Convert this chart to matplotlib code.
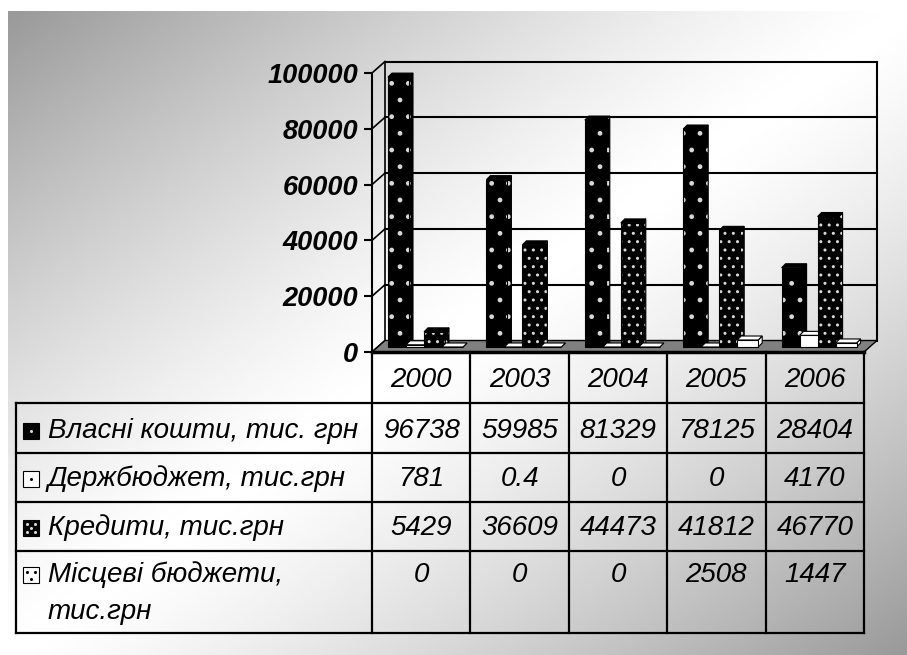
import matplotlib
matplotlib.use('Agg')
import matplotlib.pyplot as plt
import numpy as np
from matplotlib.patches import Polygon, Rectangle

plt.rcParams['font.family'] = ['Liberation Sans', 'DejaVu Sans']

years = ['2000', '2003', '2004', '2005', '2006']
series_names = ['Власні кошти, тис. грн', 'Держбюджет, тис.грн',
                'Кредити, тис.грн', 'Місцеві бюджети,\nтис.грн']
own_funds = [96738, 59985, 81329, 78125, 28404]
state_budget = [781, 0.4, 0, 0, 4170]
credits = [5429, 36609, 44473, 41812, 46770]
local_budgets = [0, 0, 0, 2508, 1447]
y_ticks = [0, 20000, 40000, 60000, 80000, 100000]

series = [own_funds, state_budget, credits, local_budgets]

# Look of each series: face colour, hatch, dot colour.
styles = [
    ('black', '.', '#d8d8d8'),
    ('white', '.', 'black'),
    ('black', '..', '#d8d8d8'),
    ('white', '.', 'black'),
]
# dots drawn inside the small legend keys (offsets in px from key centre)
key_dots = [
    [(0, 0)],
    [(0, 0)],
    [(-4, -4), (4, -4), (0, 0), (-4, 4), (4, 4)],
    [(-4, -3), (4, -3), (0, 4)],
]

W, H = 907, 655
fig = plt.figure(figsize=(W / 100, H / 100), dpi=100)

# Background gradient (grey -> white -> grey along the diagonal).
bg = fig.add_axes([0, 0, 1, 1], zorder=-10)
bg.set_xlim(0, W)
bg.set_ylim(H, 0)
bg.axis('off')
gx, gy = np.meshgrid(np.linspace(0, 1, 300), np.linspace(0, 1, 220))
t = np.abs(gx + gy - 1.0)
shade = 1 - 0.40 * t ** 1.3
bg.imshow(shade, cmap='gray', vmin=0, vmax=1, extent=[8, W, H, 11],
          aspect='auto', interpolation='bilinear')

# Chart axes: front plane of the 3D box.
x0_px, x1_px, y0_px, y1_px = 372, 864, 352, 73
ax = fig.add_axes([x0_px / W, (H - y0_px) / H, (x1_px - x0_px) / W,
                   (y0_px - y1_px) / H])
ax.set_xlim(0, len(years))
ax.set_ylim(0, 100000)
ax.patch.set_visible(False)
for side in ['top', 'right', 'bottom']:
    ax.spines[side].set_visible(False)
ax.spines['left'].set_linewidth(1.5)
ax.set_xticks([])
ax.set_yticks(y_ticks)
ax.set_yticklabels([str(v) for v in y_ticks], fontsize=19.5,
                   fontweight='bold', fontstyle='italic')
ax.tick_params(axis='y', direction='out', length=5.8, width=1.5, pad=4)

px_x = (x1_px - x0_px) / len(years)      # pixels per category
val_px = 100000 / (y0_px - y1_px)        # value units per pixel
DX, DY = 13 / px_x, 11.5 * val_px        # depth of the box

# Floor
ax.add_patch(Polygon([(0, 0), (5, 0), (5 + DX, DY), (DX, DY)],
                     closed=True, facecolor='#808080', edgecolor='black',
                     lw=1, clip_on=False, zorder=1))
ax.plot([0, 5], [0, 0], color='black', lw=2.5, clip_on=False, zorder=6)

# Back wall and side wall grid
for v in y_ticks[1:]:
    ax.plot([DX, 5 + DX], [v + DY, v + DY], color='black', lw=1.5,
            clip_on=False, zorder=0.5)
for v in y_ticks:
    ax.plot([0, DX], [v, v + DY], color='black', lw=1.2, clip_on=False,
            zorder=0.5)
ax.plot([DX, DX], [DY, 100000 + DY], color='black', lw=1.2, clip_on=False,
        zorder=0.5)
ax.plot([5 + DX, 5 + DX], [DY, 100000 + DY], color='black', lw=1.5,
        clip_on=False, zorder=0.5)

# 3D bars
offset0 = 16 / px_x
step = 18 / px_x
bw = 21 / px_x
ddx, ddy = 4 / px_x, 4 * val_px
base = 5 * val_px


def face(poly, fc, hatch, hc, z):
    ax.add_patch(Polygon(poly, closed=True, facecolor=fc, edgecolor=hc,
                         lw=0, hatch=hatch, clip_on=False, zorder=z))
    ax.add_patch(Polygon(poly, closed=True, fill=False, edgecolor='black',
                         lw=0.8, clip_on=False, zorder=z))


z = 2
for i in range(len(years)):
    for k, vals in enumerate(series):
        fc, hatch, hc = styles[k]
        v = vals[i]
        xl = i + offset0 + k * step
        xr = xl + bw
        yb, yt = base, base + v
        face([(xr, yb), (xr + ddx, yb + ddy), (xr + ddx, yt + ddy), (xr, yt)],
             fc, hatch, hc, z)
        face([(xl, yt), (xl + ddx, yt + ddy), (xr + ddx, yt + ddy), (xr, yt)],
             fc, None, hc, z)
        ax.bar(xl, v, width=bw, bottom=yb, align='edge', color=fc,
               edgecolor=hc, lw=0, hatch=hatch, clip_on=False, zorder=z)
        ax.bar(xl, v, width=bw, bottom=yb, align='edge', fill=False,
               edgecolor='black', lw=0.8, clip_on=False, zorder=z)
        z += 0.01

# Data table below the chart (pixel coordinates)
tab = fig.add_axes([0, 0, 1, 1], zorder=5)
tab.set_xlim(0, W)
tab.set_ylim(H, 0)
tab.axis('off')

col_x = [x0_px + i * px_x for i in range(len(years) + 1)]
row_y = [403, 453, 502, 551, 633]
lw = 1.6
for x in col_x:
    tab.plot([x, x], [y0_px, row_y[-1]], color='black', lw=lw)
tab.plot([16, 16], [row_y[0], row_y[-1]], color='black', lw=lw)
for y in row_y:
    tab.plot([16, col_x[-1]], [y, y], color='black', lw=lw)

font = dict(fontsize=20, fontstyle='italic')
for i, yr in enumerate(years):
    tab.text(col_x[i] + px_x / 2, 380, yr, ha='center', va='center', **font)

text_y = [431, 479, 528, 575]
for k, (name, vals) in enumerate(zip(series_names, series)):
    fc, hatch, hc = styles[k]
    ty = text_y[k]
    kx = 31
    tab.add_patch(Rectangle((kx - 8, ty - 8), 16, 16, facecolor=fc,
                            edgecolor='black', lw=0.8))
    for dx, dy in key_dots[k]:
        tab.plot(kx + dx, ty + dy, marker='o', ms=2.2, mew=0, color=hc)
    lines = name.split('\n')
    for j, line in enumerate(lines):
        tab.text(48, ty + j * 37, line, ha='left', va='center', **font)
    for i, v in enumerate(vals):
        tab.text(col_x[i] + px_x / 2, ty, f"{v:g}", ha='center',
                 va='center', **font)

fig.savefig('out.png', dpi=100)
